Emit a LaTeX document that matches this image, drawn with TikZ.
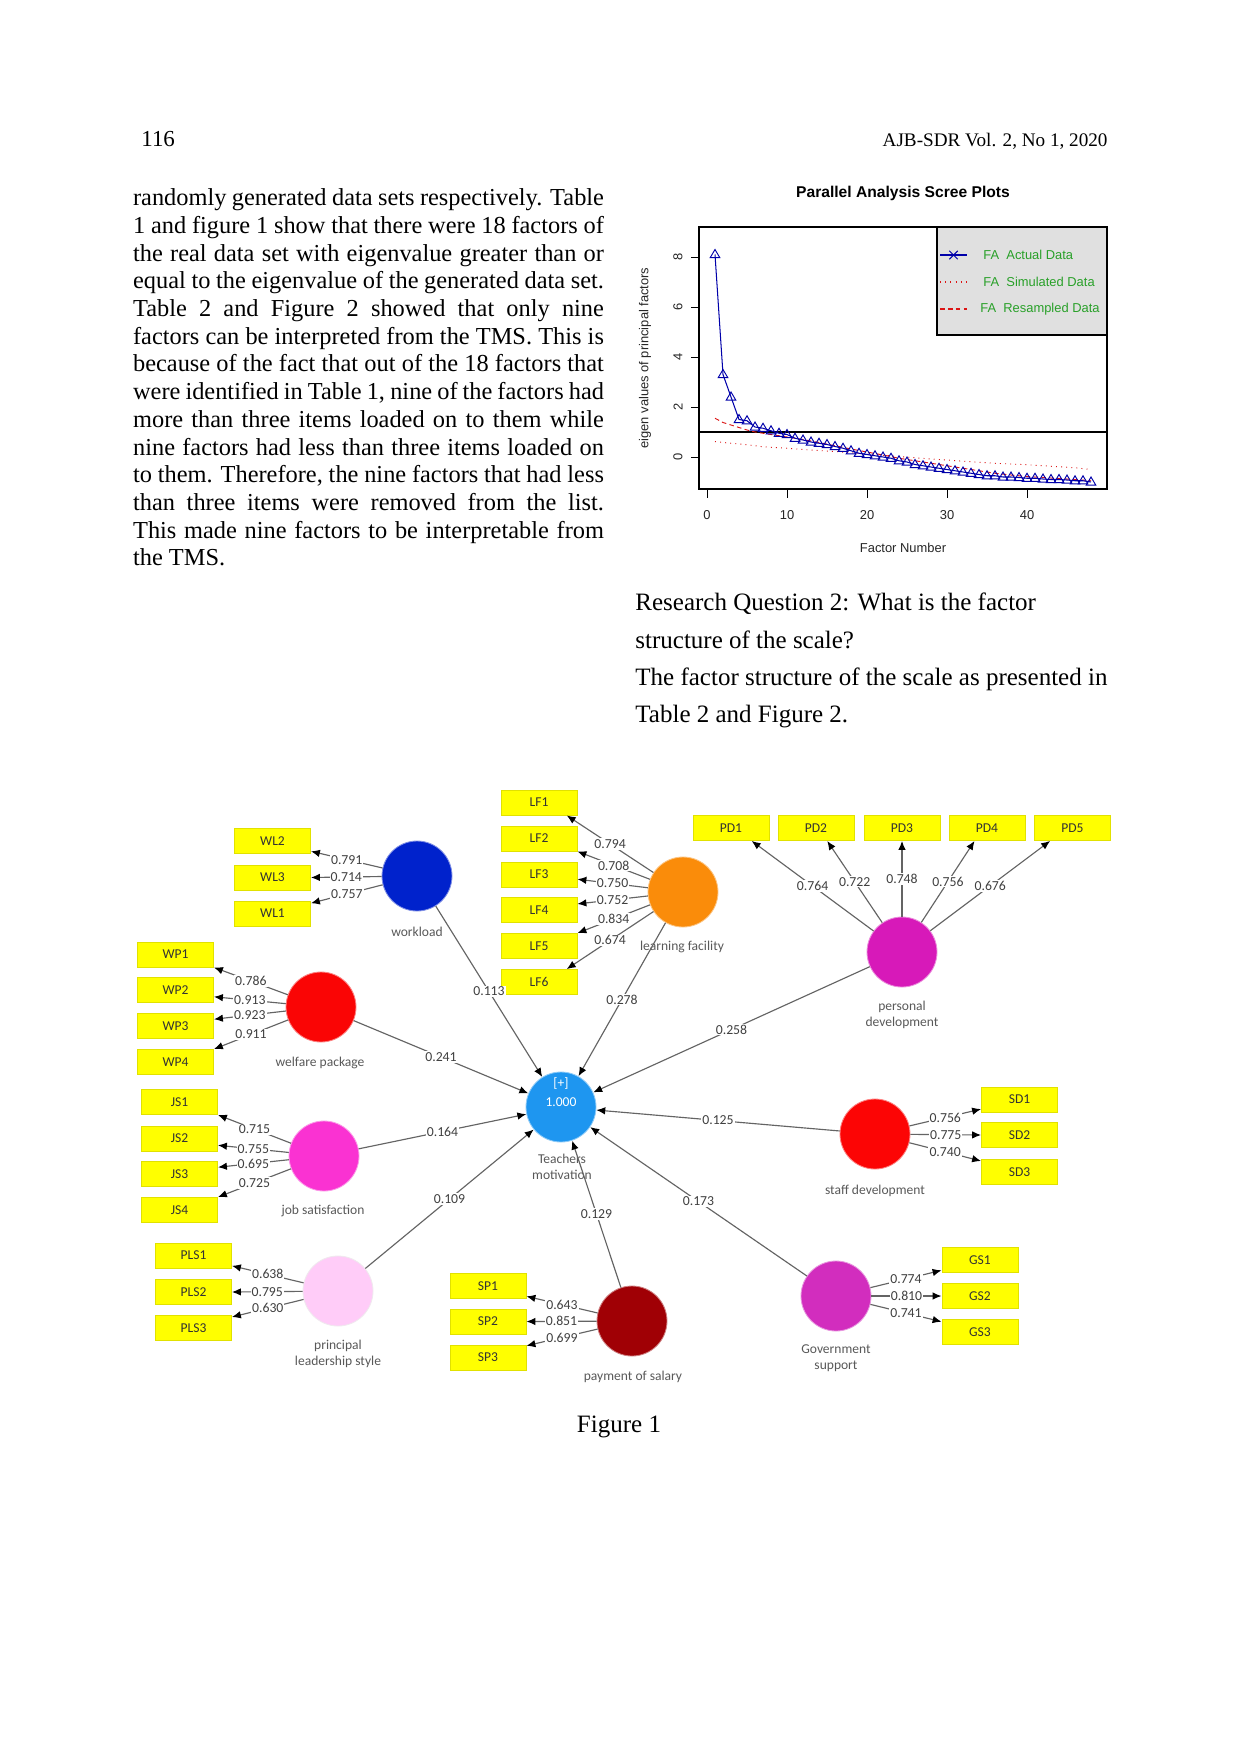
\documentclass[tikz,border=0pt]{standalone}
\usepackage{fontspec}
\setmainfont{Liberation Serif}
\newfontfamily\arialf{Liberation Sans}
\newfontfamily\calf{Carlito}
\usetikzlibrary{arrows.meta,calc}
\definecolor{cWL}{RGB}{0,34,204}
\definecolor{cWP}{RGB}{250,5,5}
\definecolor{cLF}{RGB}{250,140,10}
\definecolor{cPD}{RGB}{215,25,185}
\definecolor{cTM}{RGB}{30,150,240}
\definecolor{cSD}{RGB}{252,5,5}
\definecolor{cGS}{RGB}{210,45,190}
\definecolor{cSP}{RGB}{160,0,5}
\definecolor{cJS}{RGB}{250,50,210}
\definecolor{cPLS}{RGB}{255,204,248}
\definecolor{indyellow}{RGB}{255,255,0}
\definecolor{indborder}{RGB}{225,225,0}
\definecolor{linegray}{RGB}{100,100,100}
\definecolor{legendgray}{RGB}{224,224,224}
\definecolor{leggreen}{RGB}{40,160,40}
\definecolor{plotblue}{RGB}{0,0,170}
\definecolor{plotred}{RGB}{220,20,20}
\tikzset{
  ind/.style={draw=indborder, fill=indyellow, minimum width=36.5pt, minimum height=12pt, inner sep=0pt, font=\calf\fontsize{6.5}{7}\selectfont, text=black!80},
  lat/.style={circle, minimum size=33.6pt, inner sep=0pt, line width=0.4pt},
  ld/.style={draw=linegray, line width=0.55pt, -{Latex[length=4.3pt,width=3.6pt,color=black]}},
  num/.style={fill=white, inner sep=0.5pt, font=\calf\fontsize{6.6}{7}\selectfont, text=black!75},
  latlab/.style={font=\calf\fontsize{6.5}{7.7}\selectfont, text=black!65, align=center, inner sep=0pt},
  body/.style={font=\fontsize{11.7}{13}\selectfont, inner sep=0pt, anchor=base west},
  bodyr/.style={font=\fontsize{12}{13}\selectfont, inner sep=0pt, anchor=base west},
  ax/.style={font=\arialf\fontsize{6.2}{7}\selectfont, inner sep=0pt, text=black!85},
  tri/.style={draw=plotblue, line width=0.45pt},
}
\begin{document}
\begin{tikzpicture}[x=0.48pt,y=-0.48pt]
\fill[white] (0,0) rectangle (1241,1754);
\useasboundingbox (0,0) rectangle (1241,1754);

% ---------------- header ----------------
\node[anchor=base west, inner sep=0, font=\fontsize{11}{13}\selectfont] (pagenum) at (141,146) {116};
\node[anchor=base east, inner sep=0, font=\fontsize{9.2}{11}\selectfont] (journal) at (1108,146) {AJB-SDR Vol. 2, No 1, 2020};

% ---------------- left column ----------------
\node[body] (L1) at (132.7,205.7) {\makebox[226pt][s]{randomly generated data sets respectively. Table}};
\node[body] (L2) at (132.7,233.4) {\makebox[226pt][s]{1 and figure 1 show that there were 18 factors of}};
\node[body] (L3) at (132.7,261.1) {\makebox[226pt][s]{the real data set with eigenvalue greater than or}};
\node[body] (L4) at (132.7,288.8) {\makebox[226pt][s]{equal to the eigenvalue of the generated data set.}};
\node[body] (L5) at (132.7,316.5) {\makebox[226pt][s]{Table 2 and Figure 2 showed that only nine}};
\node[body] (L6) at (132.7,344.2) {\makebox[226pt][s]{factors can be interpreted from the TMS. This is}};
\node[body] (L7) at (132.7,371.9) {\makebox[226pt][s]{because of the fact that out of the 18 factors that}};
\node[body] (L8) at (132.7,399.6) {\makebox[226pt][s]{were identified in Table 1, nine of the factors had}};
\node[body] (L9) at (132.7,427.3) {\makebox[226pt][s]{more than three items loaded on to them while}};
\node[body] (L10) at (132.7,455.0) {\makebox[226pt][s]{nine factors had less than three items loaded on}};
\node[body] (L11) at (132.7,482.7) {\makebox[226pt][s]{to them. Therefore, the nine factors that had less}};
\node[body] (L12) at (132.7,510.4) {\makebox[226pt][s]{than three items were removed from the list.}};
\node[body] (L13) at (132.7,538.1) {\makebox[226pt][s]{This made nine factors to be interpretable from}};
\node[body] (L14) at (132.7,565.8) {the TMS.};

% ---------------- right column text ----------------
\node[bodyr] (R1) at (635,610) {Research Question 2: What is the factor};
\node[bodyr] (R2) at (635,648) {structure of the scale?};
\node[bodyr] (R3) at (635,685) {The factor structure of the scale as presented in};
\node[bodyr] (R4) at (635,722) {Table 2 and Figure 2.};

% ---------------- scree plot ----------------
\node[font=\arialf\bfseries\fontsize{7.5}{9}\selectfont, inner sep=0] (stitle) at (903,193) {Parallel Analysis Scree Plots};
\draw[line width=0.5pt] (699,227) rectangle (1107,489);
\draw[line width=0.5pt, fill=legendgray] (937,227) rectangle (1107,335);
\draw[line width=0.5pt] (699,432) -- (1107,432);
\foreach \v in {0,2,4,6,8} {
  \draw[line width=0.4pt] (699,{457-25*\v}) -- (691,{457-25*\v});
  \node[ax, rotate=90] at (678,{457-25*\v}) {\v};
}
\draw[line width=0.4pt] (707,489) -- (1027,489);
\foreach \f in {0,10,20,30,40} {
  \draw[line width=0.4pt] ({707+8*\f},489) -- ({707+8*\f},498);
  \node[ax] at ({707+8*\f},515) {\f};
}
\node[ax, rotate=90] (ylab) at (645,358) {eigen values of principal factors};
\node[ax] (xlab) at (903,548) {Factor Number};
% legend
\draw[plotblue, line width=0.5pt] (940,255) -- (967,255);
\draw[plotblue, line width=0.5pt] (953.5,255) ++(-2pt,-2pt) -- ++(4pt,4pt) ++(-4pt,0) -- ++(4pt,-4pt);
\draw[plotred, line width=0.5pt, dotted] (940,282) -- (967,282);
\draw[plotred, line width=0.5pt, dash pattern=on 2.2pt off 1.6pt] (940,309) -- (967,309);
\node[ax, anchor=west, text=leggreen] (lg1) at (983,255) {FA~~Actual Data};
\node[ax, anchor=west, text=leggreen] (lg2) at (983,282) {FA~~Simulated Data};
\node[ax, anchor=west, text=leggreen] (lg3) at (980,309) {FA~~Resampled Data};
\begin{scope}[shift={(707,457)}, x=3.84pt, y=12pt]
  \draw[plotred, line width=0.45pt, dotted] plot coordinates {(1,0.62) (2,0.58) (3,0.55) (4,0.52) (5,0.49) (6,0.45) (7,0.41) (8,0.39) (9,0.37) (10,0.35) (12,0.3) (14,0.26) (16,0.22) (18,0.17) (20,0.12) (22,0.07) (24,0.02) (26,-0.03) (28,-0.08) (30,-0.12) (32,-0.17) (34,-0.21) (36,-0.25) (38,-0.28) (40,-0.31) (42,-0.35) (44,-0.39) (46,-0.43) (48,-0.5)};
  \draw[plotred, line width=0.45pt, dash pattern=on 2.2pt off 1.6pt] plot coordinates {(1,1.55) (2,1.38) (3,1.28) (4,1.18) (5,1.08) (6,1.0) (7,0.95) (8,0.9) (9,0.85) (10,0.8) (12,0.7) (14,0.58) (16,0.45) (18,0.32) (20,0.2) (22,0.08) (24,-0.05) (26,-0.15) (28,-0.25) (30,-0.35) (32,-0.45) (34,-0.55) (36,-0.65) (38,-0.72) (40,-0.78) (42,-0.82) (44,-0.86) (46,-0.9) (48,-0.95)};
  \draw[plotblue, line width=0.5pt] plot coordinates {(1,8.1) (2,3.3) (3,2.4) (4,1.5) (5,1.45) (6,1.2) (7,1.15) (8,1.05) (9,0.95) (10,0.9) (11,0.75) (12,0.68) (13,0.6) (14,0.55) (15,0.5) (16,0.42) (17,0.35) (18,0.25) (19,0.15) (20,0.1) (21,0.05) (22,0.0) (23,-0.05) (24,-0.15) (25,-0.2) (26,-0.3) (27,-0.35) (28,-0.4) (29,-0.45) (30,-0.5) (31,-0.55) (32,-0.6) (33,-0.65) (34,-0.7) (35,-0.75) (36,-0.75) (37,-0.8) (38,-0.8) (39,-0.82) (40,-0.85) (41,-0.85) (42,-0.88) (43,-0.9) (44,-0.9) (45,-0.92) (46,-0.95) (47,-0.95) (48,-1.0)};
  \foreach \f/\v in {1/8.1,2/3.3,3/2.4,4/1.5,5/1.45,6/1.2,7/1.15,8/1.05,9/0.95,10/0.9,11/0.75,12/0.68,13/0.6,14/0.55,15/0.5,16/0.42,17/0.35,18/0.25,19/0.15,20/0.1,21/0.05,22/0.0,23/-0.05,24/-0.15,25/-0.2,26/-0.3,27/-0.35,28/-0.4,29/-0.45,30/-0.5,31/-0.55,32/-0.6,33/-0.65,34/-0.7,35/-0.75,36/-0.75,37/-0.8,38/-0.8,39/-0.82,40/-0.85,41/-0.85,42/-0.88,43/-0.9,44/-0.9,45/-0.92,46/-0.95,47/-0.95,48/-1.0}
    \draw[tri] (\f,\v) ++(-2.3pt,-1.5pt) -- ++(4.6pt,0pt) -- ++(-2.3pt,3.9pt) -- cycle;
\end{scope}

% ---------------- path diagram: indicators ----------------
\node[ind] (WL2) at (272.5,841) {WL2};
\node[ind] (WL3) at (272.5,877.5) {WL3};
\node[ind] (WL1) at (272.5,913.5) {WL1};
\node[ind] (WP1) at (175.5,954.5) {WP1};
\node[ind] (WP2) at (175.5,990) {WP2};
\node[ind] (WP3) at (175.5,1026) {WP3};
\node[ind] (WP4) at (175.5,1062) {WP4};
\node[ind] (LF1) at (539,802.5) {LF1};
\node[ind] (LF2) at (539,838.5) {LF2};
\node[ind] (LF3) at (539,874.5) {LF3};
\node[ind] (LF4) at (539,910) {LF4};
\node[ind] (LF5) at (539,946) {LF5};
\node[ind] (LF6) at (539,982) {LF6};
\node[ind] (PD1) at (731,828) {PD1};
\node[ind] (PD2) at (816,828) {PD2};
\node[ind] (PD3) at (902,828) {PD3};
\node[ind] (PD4) at (987,828) {PD4};
\node[ind] (PD5) at (1072.5,828) {PD5};
\node[ind] (SD1) at (1019.5,1099.5) {SD1};
\node[ind] (SD2) at (1019.5,1135) {SD2};
\node[ind] (SD3) at (1019.5,1172) {SD3};
\node[ind] (GS1) at (980,1260) {GS1};
\node[ind] (GS2) at (980,1296) {GS2};
\node[ind] (GS3) at (980,1332) {GS3};
\node[ind] (SP1) at (488,1286) {SP1};
\node[ind] (SP2) at (488,1321.5) {SP2};
\node[ind] (SP3) at (488,1357.5) {SP3};
\node[ind] (JS1) at (179.5,1102) {JS1};
\node[ind] (JS2) at (179.5,1138.5) {JS2};
\node[ind] (JS3) at (179.5,1174) {JS3};
\node[ind] (JS4) at (179.5,1210) {JS4};
\node[ind] (PLS1) at (193.5,1255.5) {PLS1};
\node[ind] (PLS2) at (193.5,1292) {PLS2};
\node[ind] (PLS3) at (193.5,1328) {PLS3};

% ---------------- latent labels ----------------
\node[latlab] (WLt) at (417,932) {workload};
\node[latlab] (WPt) at (320,1063) {welfare package};
\node[latlab] (LFt) at (682,947) {learning facility};
\node[latlab] (PDt) at (902,1015) {personal\\development};
\node[latlab] (TMt) at (562,1167) {Teachers\\motivation};
\node[latlab] (SDt) at (875,1191) {staff development};
\node[latlab] (GSt) at (836,1358) {Government\\support};
\node[latlab] (SPt) at (633,1377) {payment of salary};
\node[latlab] (JSt) at (323,1211) {job satisfaction};
\node[latlab] (PLSt) at (338,1354) {principal\\leadership style};

% ---------------- latent circles ----------------
\node[lat, fill=cWL, draw=cWL!50!white] (WLc) at (417,876) {};
\node[lat, fill=cWP, draw=cWP!50!white] (WPc) at (321,1007) {};
\node[lat, fill=cLF, draw=cLF!50!white] (LFc) at (683,892) {};
\node[lat, fill=cPD, draw=cPD!50!white] (PDc) at (902,952) {};
\node[lat, fill=cTM, draw=cTM!50!white] (TMc) at (561,1107) {};
\node[lat, fill=cSD, draw=cSD!50!white] (SDc) at (875,1134) {};
\node[lat, fill=cGS, draw=cGS!50!white] (GSc) at (836,1296) {};
\node[lat, fill=cSP, draw=cSP!50!white] (SPc) at (632,1321) {};
\node[lat, fill=cJS, draw=cJS!50!white] (JSc) at (324,1156) {};
\node[lat, fill=cPLS, draw=cPLS!70!black!20!white] (PLSc) at (338,1291) {};
\node[font=\calf\fontsize{6.5}{9}\selectfont, text=white, align=center, inner sep=0] (TMv) at (561,1092) {[+]\\1.000};

% ---------------- loadings ----------------
\draw[ld] (WLc) -- node[num]{0.791} (WL2.-15);
\draw[ld] (WLc) -- node[num]{0.714} (WL3.east);
\draw[ld] (WLc) -- node[num]{0.757} (WL1.15);

\draw[ld] (WPc) -- node[num]{0.786} (WP1.south east);
\draw[ld] (WPc) -- node[num]{0.913} (WP2.-10);
\draw[ld] (WPc) -- node[num]{0.923} (WP3.10);
\draw[ld] (WPc) -- node[num]{0.911} (WP4.north east);

\draw[ld] (LFc) -- node[num]{0.794} (LF1.-25);
\draw[ld] (LFc) -- node[num]{0.708} (LF2.south east);
\draw[ld] (LFc) -- node[num]{0.750} (LF3.-7);
\draw[ld] (LFc) -- node[num]{0.752} (LF4.9);
\draw[ld] (LFc) -- node[num]{0.834} (LF5.north east);
\draw[ld] (LFc) -- node[num]{0.674} (LF6.25);

\draw[ld] (PDc) -- node[num]{0.764} (PD1.-32);
\draw[ld] (PDc) -- node[num]{0.722} (PD2.-49);
\draw[ld] (PDc) -- node[num]{0.748} (PD3.south);
\draw[ld] (PDc) -- node[num]{0.756} (PD4.-134);
\draw[ld] (PDc) -- node[num]{0.676} (PD5.-150);

\draw[ld] (SDc) -- node[num]{0.756} (SD1.194);
\draw[ld] (SDc) -- node[num]{0.775} (SD2.west);
\draw[ld] (SDc) -- node[num]{0.740} (SD3.164);

\draw[ld] (GSc) -- node[num]{0.774} (GS1.195);
\draw[ld] (GSc) -- node[num]{0.810} (GS2.west);
\draw[ld] (GSc) -- node[num]{0.741} (GS3.165);

\draw[ld] (SPc) -- node[num]{0.643} (SP1.-15);
\draw[ld] (SPc) -- node[num]{0.851} (SP2.east);
\draw[ld] (SPc) -- node[num]{0.699} (SP3.17);

\draw[ld] (JSc) -- node[num]{0.715} (JS1.south east);
\draw[ld] (JSc) -- node[num]{0.755} (JS2.-10);
\draw[ld] (JSc) -- node[num]{0.695} (JS3.10);
\draw[ld] (JSc) -- node[num]{0.725} (JS4.north east);

\draw[ld] (PLSc) -- node[num]{0.638} (PLS1.-15);
\draw[ld] (PLSc) -- node[num]{0.795} (PLS2.east);
\draw[ld] (PLSc) -- node[num]{0.630} (PLS3.16);

% ---------------- structural paths ----------------
\draw[ld] (WLc) -- node[num]{0.113} (TMc);
\draw[ld] (WPc) -- node[num]{0.241} (TMc);
\draw[ld] (LFc) -- node[num]{0.278} (TMc);
\draw[ld] (PDc) -- node[num]{0.258} (TMc);
\draw[ld] (JSc) -- node[num]{0.164} (TMc);
\draw[ld] (PLSc) -- node[num]{0.109} (TMc);
\draw[ld] (SPc) -- node[num]{0.129} (TMc);
\draw[ld] (GSc) -- node[num]{0.173} (TMc);
\draw[ld] (SDc) -- node[num]{0.125} (TMc);

% ---------------- caption ----------------
\node[anchor=base, inner sep=0, font=\fontsize{12}{14}\selectfont] (cap) at (619,1432) {Figure 1};
\end{tikzpicture}
\end{document}
